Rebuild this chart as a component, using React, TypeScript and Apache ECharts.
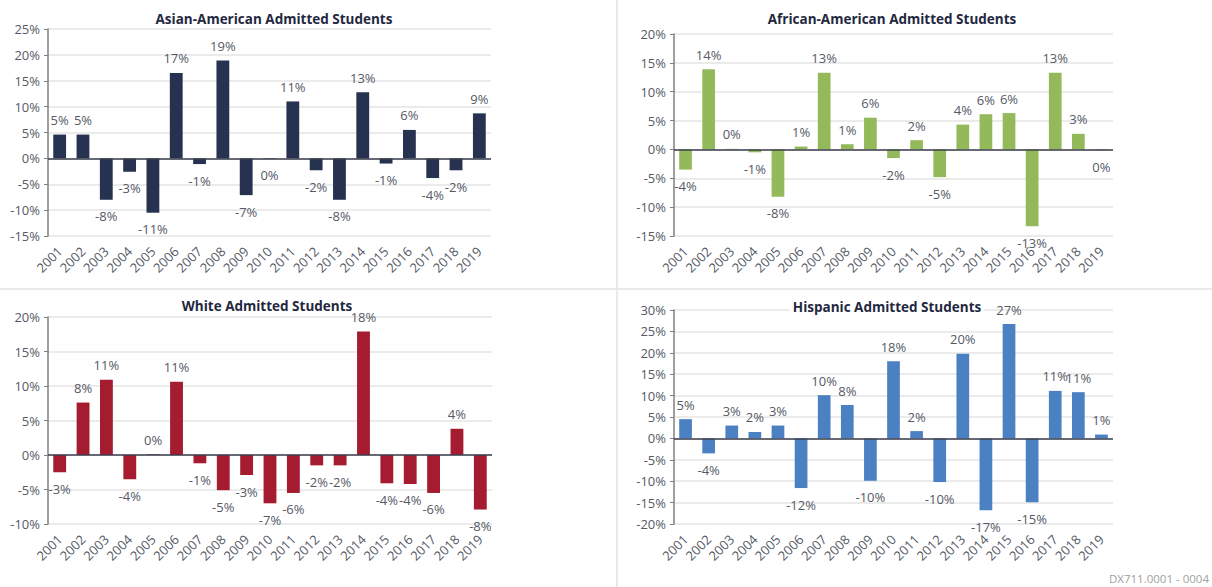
import React, { useEffect, useRef } from "react";
import * as echarts from "echarts";

const years = ["2001","2002","2003","2004","2005","2006","2007","2008","2009","2010","2011","2012","2013","2014","2015","2016","2017","2018","2019"];

const asianValues = [4.6, 4.6, -8.0, -2.6, -10.5, 16.5, -1.1, 18.9, -7.1, -0.1, 11.0, -2.3, -8.0, 12.8, -1.0, 5.5, -3.8, -2.3, 8.7];
const africanValues = [-3.5, 13.9, 0.1, -0.5, -8.2, 0.5, 13.3, 0.9, 5.5, -1.5, 1.6, -4.8, 4.3, 6.1, 6.3, -13.3, 13.3, 2.7, -0.1];
const whiteValues = [-2.5, 7.6, 10.9, -3.5, 0.1, 10.6, -1.2, -5.1, -2.9, -7.0, -5.5, -1.5, -1.5, 17.9, -4.1, -4.2, -5.5, 3.8, -7.9];
const hispanicValues = [4.5, -3.5, 3.0, 1.5, 3.0, -11.6, 10.1, 7.8, -9.9, 18.0, 1.7, -10.2, 19.8, -16.8, 26.7, -14.9, 11.1, 10.8, 0.9];

const titles = ["Asian-American Admitted Students", "African-American Admitted Students", "White Admitted Students", "Hispanic Admitted Students"];
const colors = ["#263250", "#93b95a", "#a51b2f", "#4b80c2"];
const yMins = [-15, -15, -10, -20];
const yMaxs = [25, 20, 20, 30];
const footerText = "DX711.0001 - 0004";

const FONT = "'Open Sans', 'Noto Sans', sans-serif";
const TEXT = "#555a66";

const grids = [
  { left: 48, top: 29, width: 443, height: 207 },
  { left: 674, top: 34, width: 439, height: 202 },
  { left: 48, top: 317, width: 444, height: 207 },
  { left: 674, top: 310, width: 439, height: 214 },
];
const titlePos = [
  [274, 19],
  [892, 19],
  [267, 306],
  [887, 307],
];
const titleBg = [false, false, false, true];

const fmt = (v: number) => {
  const r = Math.sign(v) * Math.round(Math.abs(v));
  return (r === 0 ? "0" : String(r)) + "%";
};

export default function App() {
  const ref = useRef<HTMLDivElement>(null);
  useEffect(() => {
    document.body.style.margin = "0";
    if (!ref.current) return;
    const chart = echarts.init(ref.current, null, { renderer: "svg" });
    const all = [asianValues, africanValues, whiteValues, hispanicValues];
    const option: any = {
      animation: false,
      backgroundColor: "#ffffff",
      grid: grids.map((g) => ({ ...g, containLabel: false })),
      xAxis: grids.map((_, i) => ({
        type: "category",
        gridIndex: i,
        data: years,
        axisLine: { show: false, onZero: false },
        axisTick: { show: false },
        axisLabel: { rotate: 45, interval: 0, fontSize: 13, color: TEXT, fontFamily: FONT, margin: 13 },
      })),
      yAxis: grids.map((_, i) => ({
        type: "value",
        gridIndex: i,
        min: yMins[i],
        max: yMaxs[i],
        interval: 5,
        axisLine: { show: true, lineStyle: { color: "#7f7f7f", width: 1.5 } },
        axisTick: { show: true, length: 4, lineStyle: { color: "#7f7f7f" } },
        axisLabel: { formatter: "{value}%", fontSize: 13, color: TEXT, fontFamily: FONT, margin: 8 },
        splitLine: { show: true, lineStyle: { color: "#e4e4e4", width: 1.5 } },
      })),
      series: all.map((vals, i) => ({
        type: "bar",
        xAxisIndex: i,
        yAxisIndex: i,
        barCategoryGap: "45%",
        itemStyle: { color: colors[i] },
        data: vals.map((v) => ({
          value: v,
          label: { position: v < 0 ? "bottom" : "top", distance: v < 0 ? 10 : 8 },
        })),
        label: {
          show: true,
          fontSize: 13,
          color: TEXT,
          fontFamily: FONT,
          formatter: (p: any) => fmt(p.value),
        },
        markLine: {
          silent: true,
          symbol: "none",
          label: { show: false },
          lineStyle: { color: "#3b3f4c", width: 1.5, type: "solid" },
          data: [{ yAxis: 0 }],
        },
      })),
      graphic: [
        { type: "line", shape: { x1: 0, y1: 289, x2: 1212, y2: 289 }, style: { stroke: "#e3e3e3", lineWidth: 1.5 } },
        { type: "line", shape: { x1: 617, y1: 0, x2: 617, y2: 587 }, style: { stroke: "#e3e3e3", lineWidth: 1.5 } },
        ...titles.map((t, i) => ({
          type: "text",
          x: titlePos[i][0],
          y: titlePos[i][1],
          z: 100,
          style: {
            text: t,
            align: "center",
            verticalAlign: "middle",
            fill: "#1f2840",
            font: `bold 13.5px ${FONT}`,
            backgroundColor: titleBg[i] ? "#ffffff" : undefined,
            padding: titleBg[i] ? [2, 3] : 0,
          },
        })),
        {
          type: "text",
          x: 1209,
          y: 578,
          style: { text: footerText, align: "right", verticalAlign: "middle", fill: "#a0a0a0", font: `11.5px ${FONT}` },
        },
      ],
    };
    chart.setOption(option);
    return () => chart.dispose();
  }, []);
  return <div ref={ref} style={{ width: 1212, height: 587 }} />;
}
